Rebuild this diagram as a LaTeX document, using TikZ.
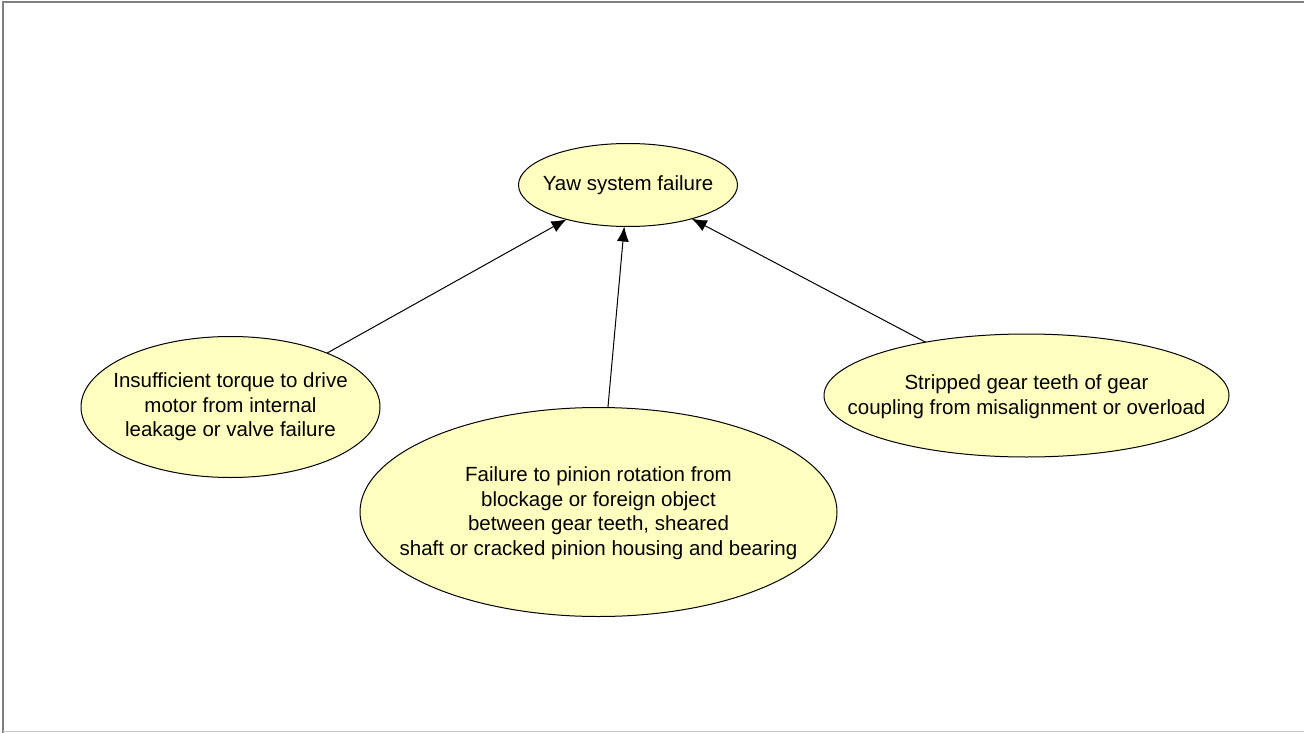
\documentclass[tikz,border=0pt]{standalone}
\usepackage{fontspec}
\setmainfont{Liberation Sans}
\usetikzlibrary{shapes.geometric,arrows.meta}
\definecolor{nodefill}{RGB}{255,255,192}
\definecolor{framegray}{RGB}{128,128,128}
\definecolor{framelight}{RGB}{200,200,200}
\begin{document}
\begin{tikzpicture}[x=1pt,y=-1pt,
  evshape/.style={ellipse,draw=black,line width=1pt,fill=nodefill,inner sep=0pt,outer sep=0pt},
  evtext/.style={inner sep=0pt,align=center,font=\fontsize{20.5}{24.5}\selectfont},
  conn/.style={draw=black,line width=1pt,-{Latex[length=15pt,width=12pt]}}]
\useasboundingbox (0,0) rectangle (1304,733);
\fill[white] (0,0) rectangle (1304,733);
\draw[framegray,line width=2pt] (3,733) -- (3,2) -- (1304,2);
\draw[framelight,line width=1.5pt] (3,731.5) -- (1304,731.5);
\node[evshape,minimum width=219pt,minimum height=83pt] (T) at (628,185) {};
\node[evtext] (Tt) at (T.center) {Yaw system failure};
\node[evshape,minimum width=299pt,minimum height=141pt] (L) at (230.5,407) {};
\node[evtext] (Lt) at (L.center) {Insufficient torque to drive\\motor from internal\\leakage or valve failure};
\node[evshape,minimum width=477pt,minimum height=209pt] (M) at (598.5,512) {};
\node[evtext] (Mt) at ([yshift=-1pt]M.center) {Failure to pinion rotation from\\blockage or foreign object\\between gear teeth, sheared\\shaft or cracked pinion housing and bearing};
\node[evshape,minimum width=405pt,minimum height=123pt] (R) at (1026.5,395.5) {};
\node[evtext] (Rt) at ([yshift=-1pt]R.center) {Stripped gear teeth of gear\\coupling from misalignment or overload};
\draw[conn] (L) -- (T);
\draw[conn] (M) -- (T);
\draw[conn] (R) -- (T);
\end{tikzpicture}
\end{document}
